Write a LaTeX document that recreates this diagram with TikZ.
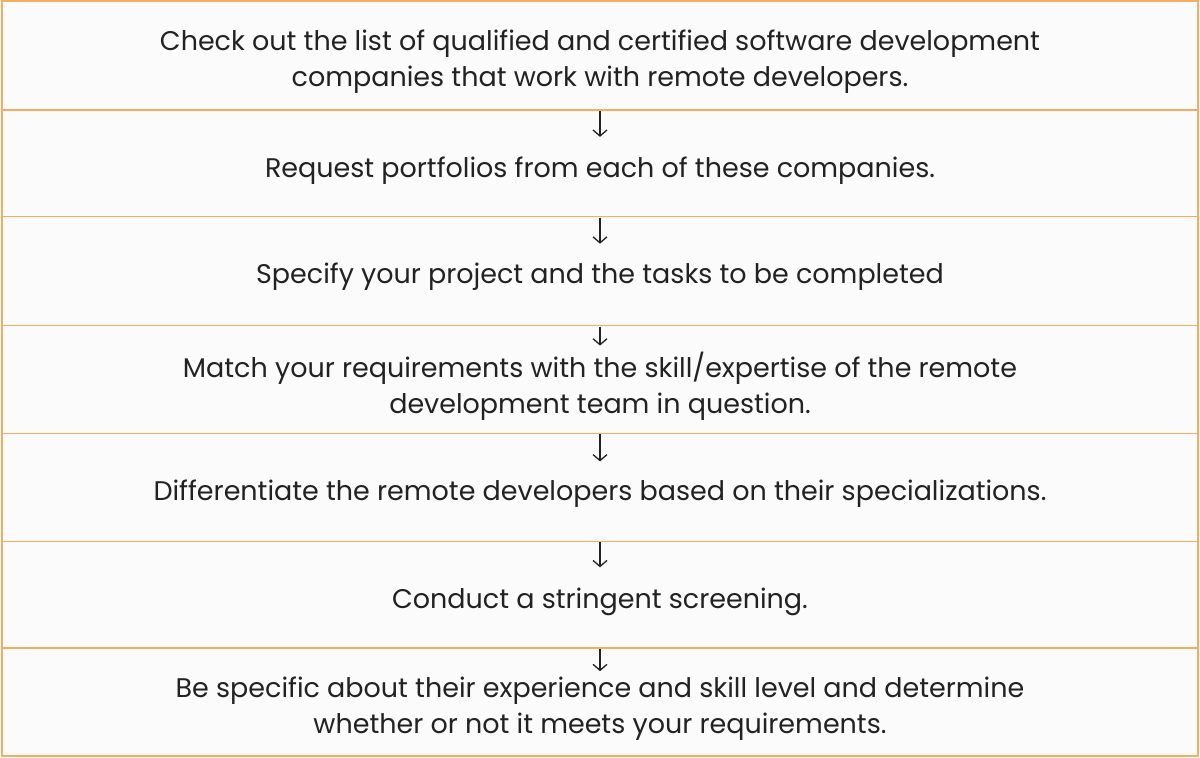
\documentclass[tikz,border=0pt]{standalone}
\usepackage{fontspec}
\setmainfont{Poppins}
\usetikzlibrary{arrows.meta}
\definecolor{paper}{HTML}{FCFBFB}
\definecolor{rule}{HTML}{F7AC62}
\definecolor{ink}{HTML}{222222}
\tikzset{
  steptext/.style={text=ink, align=center, font=\fontsize{27}{36}\selectfont},
  downarrow/.style={-{Straight Barb[length=6pt,width=14pt]}, line width=1.3pt, ink},
}
\begin{document}
\begin{tikzpicture}[x=1pt, y=-1pt]
    % First the paper background and the row rules
    \fill[paper] (0,0) rectangle (1200,758);
    \draw[rule, line width=1.5pt] (0,110) -- (1200,110);
    \draw[rule, line width=1.5pt] (0,217) -- (1200,217);
    \draw[rule, line width=1.5pt] (0,326) -- (1200,326);
    \draw[rule, line width=1.5pt] (0,434) -- (1200,434);
    \draw[rule, line width=1.5pt] (0,542) -- (1200,542);
    \draw[rule, line width=1.5pt] (0,649) -- (1200,649);
    \draw[rule, line width=1.8pt] (0.9,0.9) rectangle (1199.1,757.1);

    % Then the step texts
    \node[steptext] (check) at (600,61.5) {Check out the list of qualified and certified software development\\companies that work with remote developers.};
    \node[steptext] (request) at (600,170.5) {Request portfolios from each of these companies.};
    \node[steptext] (specify) at (600,277.5) {Specify your project and the tasks to be completed};
    \node[steptext] (match) at (600,386.5) {Match your requirements with the skill/expertise of the remote\\development team in question.};
    \node[steptext] (differ) at (600,494.5) {Differentiate the remote developers based on their specializations.};
    \node[steptext] (screen) at (600,602.5) {Conduct a stringent screening.};
    \node[steptext] (specific) at (600,709.5) {Be specific about their experience and skill level and determine\\whether or not it meets your requirements.};

    % Arrows hang from the rules
    \coordinate (r1) at (600,111);
    \coordinate (r2) at (600,218);
    \coordinate (r3) at (600,327);
    \coordinate (r4) at (600,435);
    \coordinate (r5) at (600,543);
    \coordinate (r6) at (600,650);
    \draw[downarrow] (r1) -- ([yshift=-26pt]r1);
    \draw[downarrow] (r2) -- ([yshift=-26pt]r2);
    \draw[downarrow] (r3) -- ([yshift=-19pt]r3);
    \draw[downarrow] (r4) -- ([yshift=-27pt]r4);
    \draw[downarrow] (r5) -- ([yshift=-25pt]r5);
    \draw[downarrow] (r6) -- ([yshift=-22pt]r6);
\end{tikzpicture}
\end{document}
